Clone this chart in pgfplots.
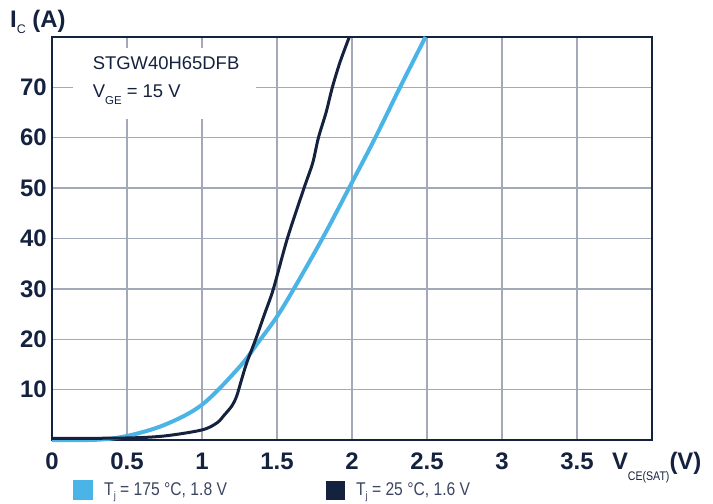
\documentclass[border=0pt]{standalone}
\usepackage{pgfplots}
\pgfplotsset{compat=1.18}
\usepackage{fontspec}
\setmainfont{Liberation Sans}
\newfontfamily\cond{Liberation Sans}[FakeStretch=0.85]
\definecolor{navy}{HTML}{15223F}
\definecolor{lblue}{HTML}{4BB4E6}
\definecolor{gridc}{HTML}{A3A9B7}
\definecolor{legtext}{HTML}{3B4660}
\newcommand{\lowsub}[3]{\raisebox{-#1}{\mdseries\fontsize{#2}{#2}\selectfont #3}}
\begin{document}
\begin{tikzpicture}
\begin{axis}[name=ax, scale only axis, width=600bp, height=403bp,
  xmin=0, xmax=4, ymin=0, ymax=80, clip=false,
  xtick={0,0.5,1,1.5,2,2.5,3,3.5}, ytick={10,20,30,40,50,60,70},
  major tick length=0pt, grid=major,
  major grid style={gridc, line width=1.3bp},
  axis line style={navy, line width=2.5bp},
  /pgf/number format/assume math mode=true,
  ticklabel style={font=\fontsize{24}{24}\selectfont\bfseries, text=navy, inner sep=0pt},
  xticklabel style={anchor=base, yshift=-30bp},
  yticklabel style={anchor=east, xshift=-5bp},
  xlabel={V\lowsub{11bp}{12.5}{\cond CE(SAT)}(V)},
  xlabel style={at={(axis description cs:0.933,0)}, anchor=base west, yshift=-30bp, inner sep=0pt,
    font=\fontsize{24}{24}\selectfont\bfseries, text=navy},
  ylabel={I\lowsub{6bp}{12.5}{C} (A)},
  ylabel style={rotate=-90, at={(axis description cs:-0.07,1)}, anchor=base west, yshift=9bp, inner sep=0pt,
    font=\fontsize{24}{24}\selectfont\bfseries, text=navy},
  legend columns=2,
  legend style={at={(axis description cs:0.035,-0.0993)}, anchor=north west, draw=none, fill=none,
    inner sep=0pt, font=\cond\fontsize{18.5}{18.5}\selectfont, text=legtext, nodes={inner sep=0pt},
    /tikz/every odd column/.append style={column sep=11bp},
    /tikz/every even column/.append style={column sep=99bp}},
  legend image code/.code={\fill (0bp,-8bp) rectangle (16bp,8bp);},
]
\node[fill=white, anchor=north west, minimum width=183bp, minimum height=71bp, inner sep=0pt] at (axis cs:0.14,77.8) {};
\node[anchor=base west, inner sep=0pt, text=navy, font=\fontsize{18.5}{18.5}\selectfont] at (axis cs:0.271,73.6) {STGW40H65DFB};
\node[anchor=base west, inner sep=0pt, text=navy, font=\fontsize{18.5}{18.5}\selectfont] at (axis cs:0.271,68) {V\lowsub{7bp}{11.5}{GE} = 15 V};
\addplot[color=lblue, line width=4bp, smooth, tension=0.55] coordinates {
(0,0) (0.3,0.05) (0.5,0.8) (0.75,3) (1.0,7) (1.25,14.5) (1.38,19.6) (1.5,24.5) (1.62,30.4) (1.81,40.4) (1.98,50) (2.155,60) (2.32,70) (2.49,80)};
\addlegendentry{T\lowsub{4bp}{11}{j} = 175 °C, 1.8 V}
\addplot[color=navy, line width=3bp, smooth, tension=0.5] coordinates {
(0,0.3) (0.5,0.4) (0.75,0.8) (1.0,2) (1.1,3.4) (1.15,5) (1.2,6.8) (1.231,8.7) (1.264,12) (1.298,15.3) (1.358,20) (1.417,25) (1.476,30) (1.569,40) (1.68,50) (1.738,55) (1.776,60) (1.827,65) (1.869,70) (1.92,75) (1.982,80)};
\addlegendentry{T\lowsub{4bp}{11}{j} = 25 °C, 1.6 V}
\end{axis}
\path (ax.south west) ++(-52bp,-64bp) coordinate (bbA);
\path (ax.north east) ++(61bp,37bp) coordinate (bbB);
\path (bbA) rectangle (bbB);
\end{tikzpicture}
\end{document}
